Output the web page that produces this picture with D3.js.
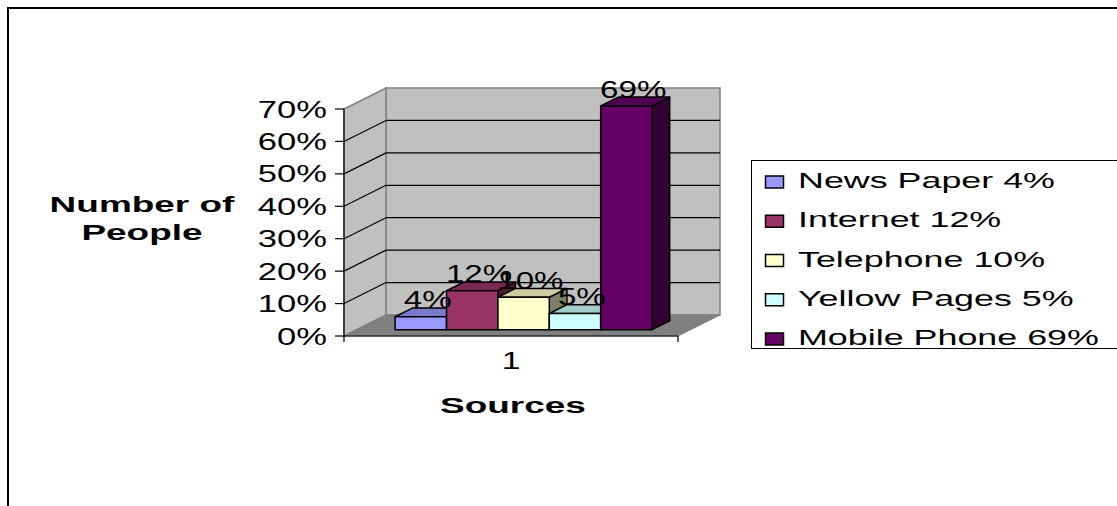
<!DOCTYPE html>
<html>
<head>
<meta charset="utf-8">
<script src="https://cdn.jsdelivr.net/npm/d3@7"></script>
<style>
  body { margin: 0; background: #fff; }
  svg { display: block; font-family: "Liberation Sans", Arial, sans-serif; }
</style>
</head>
<body>
<script>
// chart data
const categories = ["1"]
const series = ["News Paper", "Internet", "Telephone", "Yellow Pages", "Mobile Phone"]
const values = [0.04, 0.12, 0.10, 0.05, 0.69]
const colors = ["#9999FF", "#993366", "#FFFFCC", "#CCFFFF", "#660066"]
const yTicks = [0, 0.1, 0.2, 0.3, 0.4, 0.5, 0.6, 0.7]

const width = 1117, height = 506
const DX = 42, DY = -21          // depth of the 3d box
const z0 = 0.3, z1 = 0.72        // bar depth inside the box

const svg = d3.select("body").append("svg")
    .attr("width", width)
    .attr("height", height)

// outer frame (runs off the right and bottom of the picture)
svg.append("rect")
    .attr("x", 8).attr("y", 8)
    .attr("width", 1300).attr("height", 700)
    .attr("fill", "none").attr("stroke", "#000").attr("stroke-width", 2)

let yScale = d3.scaleLinear().domain([0, 0.7]).range([336, 109])
let xScale = d3.scaleBand().domain(categories).range([344, 678])
    .paddingInner(0).paddingOuter(0.15)
let sScale = d3.scaleBand().domain(series).range([0, xScale.bandwidth()])

const x0 = xScale.range()[0], x1 = xScale.range()[1]
const pt = (x, v, z) => [x + z * DX, yScale(v) + z * DY]
const poly = pts => pts.map(p => p.join(",")).join(" ")

// stretched text helper (the reference text is widened)
function label(g, x, y, str, size, sx, anchor, weight) {
    return g.append("text")
        .attr("transform", `translate(${x}, ${y}) scale(${sx}, 1)`)
        .attr("text-anchor", anchor || "start")
        .style("font-size", size + "px")
        .style("font-weight", weight || "normal")
        .text(str)
}

// walls and floor
const yMax = yScale.domain()[1]
svg.append("polygon")
    .attr("points", poly([pt(x0, 0, 1), pt(x1, 0, 1), pt(x1, yMax, 1), pt(x0, yMax, 1)]))
    .attr("fill", "#C0C0C0").attr("stroke", "#808080").attr("stroke-width", 1.5)
svg.append("polygon")
    .attr("points", poly([pt(x0, 0, 0), pt(x0, yMax, 0), pt(x0, yMax, 1), pt(x0, 0, 1)]))
    .attr("fill", "#C0C0C0").attr("stroke", "#808080").attr("stroke-width", 1.5)
svg.append("polygon")
    .attr("points", poly([pt(x0, 0, 0), pt(x1, 0, 0), pt(x1, 0, 1), pt(x0, 0, 1)]))
    .attr("fill", "#808080").attr("stroke", "#808080").attr("stroke-width", 1)

// gridlines on back wall and left wall
const inner = yTicks.filter(t => t > 0 && t < yMax)
svg.selectAll(".grid-back")
    .data(inner)
    .enter()
    .append("line")
    .attr("x1", d => pt(x0, d, 1)[0]).attr("y1", d => pt(x0, d, 1)[1])
    .attr("x2", d => pt(x1, d, 1)[0]).attr("y2", d => pt(x1, d, 1)[1])
    .attr("stroke", "#000").attr("stroke-width", 1.2)
svg.selectAll(".grid-side")
    .data(inner)
    .enter()
    .append("line")
    .attr("x1", d => pt(x0, d, 0)[0]).attr("y1", d => pt(x0, d, 0)[1])
    .attr("x2", d => pt(x0, d, 1)[0]).attr("y2", d => pt(x0, d, 1)[1])
    .attr("stroke", "#000").attr("stroke-width", 1.2)

// axes lines
svg.append("line")
    .attr("x1", x0).attr("y1", yScale(0)).attr("x2", x0).attr("y2", yScale(yMax))
    .attr("stroke", "#000").attr("stroke-width", 1.2)
svg.append("line")
    .attr("x1", x0).attr("y1", yScale(0)).attr("x2", x1).attr("y2", yScale(0))
    .attr("stroke", "#000").attr("stroke-width", 1.2)
svg.selectAll(".ytick")
    .data(yTicks)
    .enter()
    .append("line")
    .attr("x1", x0 - 9).attr("x2", x0)
    .attr("y1", d => yScale(d)).attr("y2", d => yScale(d))
    .attr("stroke", "#000").attr("stroke-width", 1.2)
svg.selectAll(".xtick")
    .data([x0, x1])
    .enter()
    .append("line")
    .attr("x1", d => d).attr("x2", d => d)
    .attr("y1", yScale(0)).attr("y2", yScale(0) + 6)
    .attr("stroke", "#000").attr("stroke-width", 1.2)

yTicks.forEach(t => {
    label(svg, x0 - 17, yScale(t) + 8.5, d3.format(".0%")(t), 24, 1.44, "end")
})

// bars
const shade = (c, k) => {
    const r = d3.rgb(c)
    return d3.rgb(r.r * k, r.g * k, r.b * k).formatHex()
}
const bars = svg.append("g")
series.forEach((s, i) => {
    const v = values[i]
    const a = xScale(categories[0]) + sScale(s)
    const b = a + sScale.bandwidth()
    const g = bars.append("g")
    g.append("polygon")
        .attr("points", poly([pt(b, 0, z0), pt(b, 0, z1), pt(b, v, z1), pt(b, v, z0)]))
        .attr("fill", shade(colors[i], 0.5))
    g.append("polygon")
        .attr("points", poly([pt(a, v, z0), pt(b, v, z0), pt(b, v, z1), pt(a, v, z1)]))
        .attr("fill", shade(colors[i], 0.8))
    g.append("polygon")
        .attr("points", poly([pt(a, 0, z0), pt(b, 0, z0), pt(b, v, z0), pt(a, v, z0)]))
        .attr("fill", colors[i])
    g.selectAll("polygon")
        .attr("stroke", "#000").attr("stroke-width", 1.5).attr("stroke-linejoin", "round")
})

// value labels
series.forEach((s, i) => {
    const v = values[i]
    const a = xScale(categories[0]) + sScale(s) + sScale.bandwidth() / 2
    const top = pt(a, v, (z0 + z1) / 2)
    label(svg, top[0] - 2, top[1] - 4, d3.format(".0%")(v), 24, 1.38, "middle")
})

// category label and axis titles
label(svg, xScale(categories[0]) + xScale.bandwidth() / 2, 369, categories[0], 24, 1.4, "middle")
label(svg, 513, 413, "Sources", 22, 1.68, "middle", "bold")
label(svg, 142, 212, "Number of", 22, 1.68, "middle", "bold")
label(svg, 142, 240, "People", 22, 1.68, "middle", "bold")

// legend
const legend = svg.append("g")
legend.append("rect")
    .attr("x", 751.5).attr("y", 160.5)
    .attr("width", 400).attr("height", 188)
    .attr("fill", "#fff").attr("stroke", "#000").attr("stroke-width", 1)
const rowY = d3.scalePoint().domain(series).range([188, 345])
series.forEach((s, i) => {
    legend.append("rect")
        .attr("x", 765.5).attr("y", rowY(s) - 12)
        .attr("width", 18).attr("height", 12)
        .attr("fill", colors[i]).attr("stroke", "#000").attr("stroke-width", 1.5)
    label(legend, 798, rowY(s), s + " " + d3.format(".0%")(values[i]), 22, 1.63, "start")
})
</script>
</body>
</html>
